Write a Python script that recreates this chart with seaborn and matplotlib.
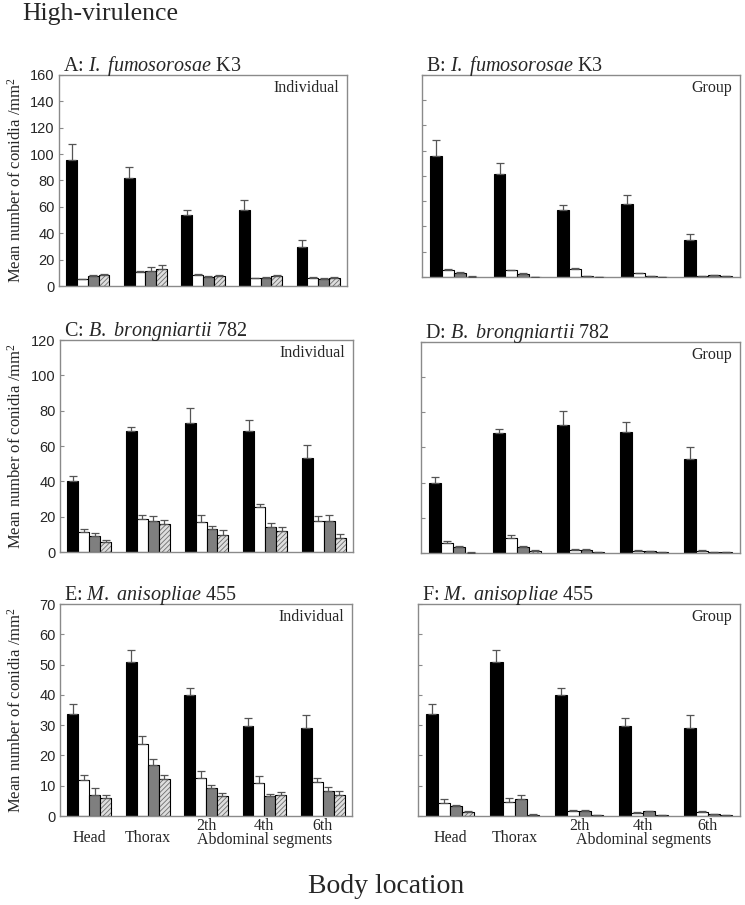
"""Conidia counts on body locations, high-virulence isolates."""

import matplotlib

matplotlib.use("Agg")

import matplotlib.colors as mcolors
import matplotlib.pyplot as plt
import matplotlib.transforms as mtransforms
import pandas as pd
import seaborn as sns

locations = ["Head", "Thorax", "2th", "4th", "6th"]
series = ["Series 1", "Series 2", "Series 3", "Series 4"]

# rows follow `series`, columns follow `locations`
a_mean = [
    [95.7, 82.1, 53.7, 57.9, 29.2],
    [5.0, 10.6, 8.6, 5.8, 6.3],
    [7.6, 11.3, 7.1, 6.3, 5.5],
    [8.1, 12.6, 7.3, 7.8, 6.0],
]
a_err = [
    [12.1, 8.1, 3.7, 7.6, 5.6],
    [0.6, 0.8, 0.8, 0.5, 0.8],
    [0.8, 3.1, 0.8, 0.5, 0.5],
    [0.8, 3.0, 0.8, 0.5, 0.5],
]
b_mean = [
    [95.5, 81.8, 53.0, 57.5, 29.3],
    [5.3, 5.3, 6.6, 3.2, 0.8],
    [3.2, 2.6, 0.8, 0.5, 1.3],
    [0.3, 0.2, 0.2, 0.2, 0.5],
]
b_err = [
    [12.7, 8.4, 4.0, 7.7, 5.0],
    [1.3, 0.5, 0.8, 0.3, 0.2],
    [0.4, 0.4, 0.2, 0.1, 0.2],
    [0.1, 0.1, 0.1, 0.1, 0.1],
]
c_mean = [
    [40.3, 68.4, 73.1, 68.4, 53.4],
    [11.3, 18.8, 16.7, 25.3, 17.6],
    [9.2, 17.8, 13.1, 14.3, 17.8],
    [5.4, 15.9, 9.9, 12.0, 7.9],
]
c_err = [
    [2.8, 2.5, 8.5, 6.6, 7.0],
    [1.8, 2.4, 4.3, 1.7, 2.9],
    [1.7, 2.3, 1.7, 2.2, 3.2],
    [1.2, 2.3, 2.7, 2.4, 2.4],
]
d_mean = [
    [40.0, 68.2, 72.9, 68.6, 53.6],
    [5.5, 8.3, 1.7, 1.3, 1.3],
    [3.4, 3.2, 1.9, 1.1, 0.6],
    [0.2, 1.3, 0.4, 0.6, 0.4],
]
d_err = [
    [3.2, 2.5, 8.1, 6.0, 6.6],
    [1.1, 1.9, 0.3, 0.2, 0.2],
    [0.5, 0.9, 0.4, 0.2, 0.1],
    [0.1, 0.4, 0.1, 0.1, 0.1],
]
e_mean = [
    [33.7, 51.0, 39.8, 29.7, 29.2],
    [11.9, 23.7, 12.5, 10.9, 11.1],
    [7.0, 16.9, 9.3, 6.5, 8.2],
    [5.8, 12.3, 6.5, 6.8, 7.0],
]
e_err = [
    [3.3, 3.9, 2.4, 2.6, 4.0],
    [1.7, 2.7, 2.2, 2.3, 1.5],
    [2.2, 1.9, 1.0, 0.8, 1.5],
    [1.2, 1.3, 1.1, 1.2, 1.4],
]
f_mean = [
    [33.7, 51.0, 39.8, 29.6, 29.2],
    [4.4, 4.7, 1.8, 1.1, 1.3],
    [3.2, 5.7, 1.8, 1.5, 0.7],
    [1.2, 0.2, 0.2, 0.3, 0.3],
]
f_err = [
    [3.3, 3.9, 2.4, 2.7, 4.0],
    [1.1, 1.3, 0.3, 0.3, 0.2],
    [0.5, 1.2, 0.3, 0.3, 0.1],
    [0.6, 0.3, 0.1, 0.1, 0.1],
]

panels = [
    ("A", "I.\\ fumosorosae", "K3", "Individual", a_mean, a_err, 160, 20),
    ("B", "I.\\ fumosorosae", "K3", "Group", b_mean, b_err, 160, 20),
    ("C", "B.\\ brongniartii", "782", "Individual", c_mean, c_err, 120, 20),
    ("D", "B.\\ brongniartii", "782", "Group", d_mean, d_err, 120, 20),
    ("E", "M.\\ anisopliae", "455", "Individual", e_mean, e_err, 70, 10),
    ("F", "M.\\ anisopliae", "455", "Group", f_mean, f_err, 70, 10),
]

# axes boxes in pixels: left, top, right, bottom
boxes = {
    "A": (59, 75, 347, 286),
    "B": (422, 75, 740, 277),
    "C": (60, 340, 353, 552),
    "D": (421, 342, 740, 553),
    "E": (60, 604, 352, 816),
    "F": (418, 604, 740, 816),
}

palette = dict(zip(series, ["black", "white", "#7f7f7f", "#dedede"]))

sns.set_theme(style="white")
plt.rcParams["font.family"] = ["Liberation Serif", "DejaVu Serif"]
plt.rcParams["mathtext.fontset"] = "custom"
plt.rcParams["mathtext.rm"] = "Liberation Serif"
plt.rcParams["mathtext.it"] = "Liberation Serif:italic"
plt.rcParams["hatch.linewidth"] = 0.6

W, H = 745, 905
fig = plt.figure(figsize=(W / 100, H / 100), dpi=100)

for letter, species, strain, mode, means, errs, ymax, step in panels:
    left, top, right, bottom = boxes[letter]
    ax = fig.add_axes([left / W, 1 - bottom / H, (right - left) / W, (bottom - top) / H])

    df = pd.DataFrame(
        [
            {"location": loc, "series": s, "value": means[i][j]}
            for i, s in enumerate(series)
            for j, loc in enumerate(locations)
        ]
    )
    sns.barplot(
        data=df,
        x="location",
        y="value",
        hue="series",
        order=locations,
        hue_order=series,
        palette=palette,
        saturation=1,
        width=0.75,
        edgecolor="black",
        linewidth=0.8,
        errorbar=None,
        legend=False,
        ax=ax,
    )
    bar_containers = list(ax.containers)
    for i, container in enumerate(bar_containers):
        xs = [p.get_x() + p.get_width() / 2 for p in container.patches]
        hs = [p.get_height() for p in container.patches]
        if i == 3:
            for p in container.patches:
                p.set_hatch("///////")
                p._hatch_color = mcolors.to_rgba("#6e6e6e")
        ax.errorbar(
            xs,
            hs,
            yerr=[[0] * len(hs), errs[i]],
            fmt="none",
            ecolor="#555555",
            elinewidth=0.9,
            capsize=3,
            capthick=0.9,
            zorder=3,
        )

    ax.set_xlim(-0.5, len(locations) - 0.5)
    ax.set_ylim(0, ymax)
    ax.set_yticks(range(0, ymax + 1, step))
    ax.set_xlabel("")
    ax.set_ylabel("")
    for spine in ax.spines.values():
        spine.set_color("#8a8a8a")
        spine.set_linewidth(1.0)
    ax.tick_params(axis="y", direction="in", length=3, width=0.8, color="#8a8a8a", pad=3, left=True)
    ax.tick_params(axis="x", length=0, pad=1.5)
    for lab in ax.get_yticklabels():
        lab.set_fontfamily("Liberation Sans")
        lab.set_fontsize(10.5)

    is_left = letter in "ACE"
    if not is_left:
        ax.tick_params(axis="y", labelleft=False)
    else:
        ax.set_ylabel("Mean number of conidia /mm$^2$", fontsize=12)
        ax.yaxis.set_label_coords(-0.12, 0.5)

    if letter in "EF":
        ax.set_xticks(range(len(locations)))
        ax.set_xticklabels(locations, fontsize=11.5)
        shift = mtransforms.ScaledTranslation(0, -0.12, fig.dpi_scale_trans)
        for lab in ax.get_xticklabels()[:2]:
            lab.set_transform(lab.get_transform() + shift)
        ax.annotate(
            "Abdominal segments",
            xy=(3, 0),
            xycoords=("data", "axes fraction"),
            xytext=(0, -17.5),
            textcoords="offset points",
            ha="center",
            va="center",
            fontsize=11.5,
        )
    else:
        ax.set_xticks([])

    width_px = right - left
    height_px = bottom - top
    ax.text(
        4 / width_px,
        1 + 4 / height_px,
        f"{letter}: $\\mathit{{{species}}}$ {strain}",
        transform=ax.transAxes,
        ha="left",
        va="baseline",
        fontsize=14.5,
    )
    ax.text(
        1 - 8 / width_px,
        1 - 17 / height_px,
        mode,
        transform=ax.transAxes,
        ha="right",
        va="baseline",
        fontsize=11.5,
    )

fig.text(22 / W, 1 - 20 / H, "High-virulence", ha="left", va="baseline", fontsize=18.5)
fig.text(386 / W, 1 - 893 / H, "Body location", ha="center", va="baseline", fontsize=20)

fig.savefig("out.png", dpi=100)
plt.close(fig)
